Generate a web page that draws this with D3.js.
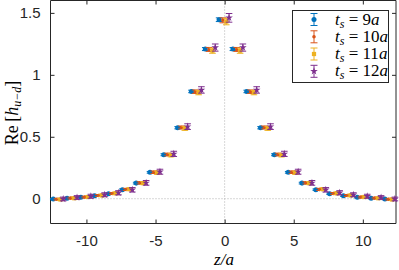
<!DOCTYPE html>
<html><head><meta charset="utf-8">
<script src="https://cdn.jsdelivr.net/npm/d3@7"></script>
<style>
html,body{margin:0;padding:0;background:#fff;}
svg{display:block;}
</style>
</head><body>
<svg id="c" width="399" height="270"></svg>
<script>
// ---- data ----
const zVals = [-12,-11,-10,-9,-8,-7,-6,-5,-4,-3,-2,-1,0,1,2,3,4,5,6,7,8,9,10,11,12];
const seriesLabels = ["9a","10a","11a","12a"];
const offsets = [-0.4,-0.13,0.12,0.32];
const ts9  = [-0.003,0.004,0.012,0.024,0.040,0.073,0.126,0.213,0.355,0.573,0.866,1.208,1.445,1.208,0.866,0.573,0.355,0.213,0.126,0.073,0.040,0.024,0.012,0.004,-0.003];
const ts10 = [-0.004,0.005,0.013,0.026,0.042,0.075,0.128,0.214,0.357,0.575,0.864,1.205,1.440,1.205,0.864,0.575,0.357,0.214,0.128,0.075,0.042,0.026,0.013,0.005,-0.004];
const ts11 = [-0.006,0.004,0.014,0.027,0.044,0.077,0.126,0.210,0.352,0.568,0.857,1.195,1.430,1.195,0.857,0.568,0.352,0.210,0.126,0.077,0.044,0.027,0.014,0.004,-0.006];
const ts12 = [-0.002,0.010,0.020,0.032,0.048,0.072,0.128,0.218,0.362,0.582,0.878,1.220,1.460,1.220,0.878,0.582,0.362,0.218,0.128,0.072,0.048,0.032,0.020,0.010,-0.002];
const err9  = [0.005,0.005,0.005,0.006,0.006,0.006,0.007,0.007,0.008,0.009,0.010,0.012,0.015,0.012,0.010,0.009,0.008,0.007,0.007,0.006,0.006,0.006,0.005,0.005,0.005];
const err10 = [0.007,0.007,0.007,0.008,0.008,0.009,0.009,0.010,0.011,0.012,0.014,0.016,0.020,0.016,0.014,0.012,0.011,0.010,0.009,0.009,0.008,0.008,0.007,0.007,0.007];
const err11 = [0.009,0.009,0.010,0.010,0.011,0.011,0.012,0.013,0.014,0.016,0.018,0.021,0.026,0.021,0.018,0.016,0.014,0.013,0.012,0.011,0.011,0.010,0.010,0.009,0.009];
const err12 = [0.015,0.015,0.016,0.016,0.017,0.018,0.019,0.020,0.021,0.023,0.026,0.029,0.035,0.029,0.026,0.023,0.021,0.020,0.019,0.018,0.017,0.016,0.016,0.015,0.015];
const xTicks = [-10,-5,0,5,10];
const yTicks = [0,0.5,1,1.5];
const yTickLabels = ["0","0.5","1","1.5"];

const colors = ["#0072BD","#D95319","#EDB120","#7E2F8E"];
const values = [ts9,ts10,ts11,ts12];
const errors = [err9,err10,err11,err12];

// ---- layout ----
const svg = d3.select("#c");
const L=50.5, R=396, T=0.5, B=223.5;
const x = d3.scaleLinear().domain([-12.6,12.4]).range([L,R]);
const y = d3.scaleLinear().domain([-0.2,1.6]).range([B,T]);
const axCol = "#262626";
const sans = "'Liberation Sans',Arial,Helvetica,sans-serif";
const serif = "'Liberation Serif','Times New Roman',serif";

// dotted reference lines
svg.append("line").attr("x1",x(0)).attr("x2",x(0)).attr("y1",T).attr("y2",B)
  .attr("stroke","#b0b0b0").attr("stroke-width",1).attr("stroke-dasharray","1,2");
svg.append("line").attr("x1",L).attr("x2",R).attr("y1",y(0)).attr("y2",y(0))
  .attr("stroke","#b0b0b0").attr("stroke-width",1).attr("stroke-dasharray","1,2");

// axes
const gx = svg.append("g").attr("transform",`translate(0,${B})`)
  .call(d3.axisBottom(x).tickValues(xTicks).tickSize(-4).tickPadding(12).tickFormat(d=>d<0?"-"+Math.abs(d):d));
const gxt = svg.append("g").attr("transform",`translate(0,${T})`)
  .call(d3.axisTop(x).tickValues(xTicks).tickSize(-4).tickFormat(""));
const gy = svg.append("g").attr("transform",`translate(${L},0)`)
  .call(d3.axisLeft(y).tickValues(yTicks).tickSize(-4).tickPadding(10).tickFormat((d,i)=>yTickLabels[i]));
const gyr = svg.append("g").attr("transform",`translate(${R},0)`)
  .call(d3.axisRight(y).tickValues(yTicks).tickSize(-4).tickFormat(""));
[gx,gxt,gy,gyr].forEach(g=>{
  g.attr("font-family",null).attr("font-size",null);
  g.select(".domain").attr("stroke",axCol).attr("stroke-width",1);
  g.selectAll(".tick line").attr("stroke",axCol).attr("stroke-width",1);
  g.selectAll(".tick text").attr("fill",axCol).style("font-family",sans).style("font-size","15px");
});
gx.select(".domain").attr("d",`M${L},0H${R}`);
gxt.select(".domain").attr("d",`M${L},0H${R}`);
gy.select(".domain").attr("d",`M0,${T}V${B}`);
gyr.select(".domain").attr("d",`M0,${T}V${B}`);

// markers
const shapes = [
  d3.symbol().type(d3.symbolCircle).size(20),
  d3.symbol().type(d3.symbolCircle).size(10),
  d3.symbol().type(d3.symbolSquare).size(18),
  d3.symbol().type(d3.symbolStar).size(18)
];
const cap = 3.3;
values.forEach((vals,si)=>{
  const g = svg.append("g");
  zVals.forEach((z,i)=>{
    const cx = x(z+offsets[si]);
    const y1 = y(vals[i]-errors[si][i]), y2 = y(vals[i]+errors[si][i]);
    g.append("path").attr("d",`M${cx},${y1}V${y2}M${cx-cap},${y1}H${cx+cap}M${cx-cap},${y2}H${cx+cap}`)
      .attr("stroke",colors[si]).attr("stroke-width",1).attr("fill","none");
    g.append("path").attr("d",shapes[si]()).attr("transform",`translate(${cx},${y(vals[i])})`)
      .attr("fill",colors[si]);
  });
});

// legend
const lg = svg.append("g");
lg.append("rect").attr("x",292.5).attr("y",10.5).attr("width",96).attr("height",72)
  .attr("fill","#fff").attr("stroke",axCol).attr("stroke-width",1);
const rowY = [19.5,36.8,54,71.3];
seriesLabels.forEach((lab,si)=>{
  const cy = rowY[si], cx = 314;
  lg.append("path").attr("d",`M${cx},${cy-6}V${cy+6}M${cx-3.5},${cy-6}H${cx+3.5}M${cx-3.5},${cy+6}H${cx+3.5}`)
    .attr("stroke",colors[si]).attr("stroke-width",1).attr("fill","none");
  lg.append("path").attr("d",shapes[si]()).attr("transform",`translate(${cx},${cy})`).attr("fill",colors[si]);
  const t = lg.append("text").attr("x",335).attr("y",cy+5)
    .style("font-family",serif).style("font-size","17px").attr("fill","#000");
  t.append("tspan").style("font-style","italic").text("t");
  t.append("tspan").style("font-style","italic").style("font-size","12px").attr("dy",3).text("s");
  t.append("tspan").attr("dy",-3).text(" = ");
  const m = lab.match(/^(\d+)(a)$/);
  t.append("tspan").text(m[1]);
  t.append("tspan").style("font-style","italic").text(m[2]);
});

// axis labels
svg.append("text").attr("x",224).attr("y",265).attr("text-anchor","middle")
  .style("font-family",serif).style("font-size","17px").style("font-style","italic").attr("fill","#000")
  .text("z/a");

const yl = svg.append("text").attr("transform","translate(18,113) rotate(-90)").attr("text-anchor","middle")
  .style("font-family",serif).style("font-size","18px").attr("fill","#000");
yl.append("tspan").text("Re\u2009[");
yl.append("tspan").style("font-style","italic").text("h");
yl.append("tspan").style("font-style","italic").style("font-size","12px").attr("dy",3).text("u\u2212d");
yl.append("tspan").attr("dy",-3).text("]");
</script>
</body></html>
